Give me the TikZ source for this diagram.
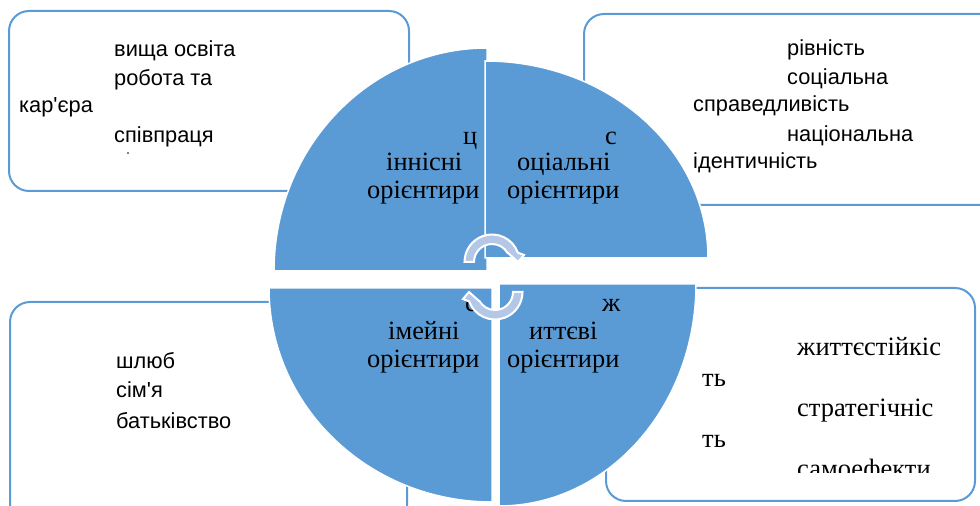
\documentclass[tikz,border=0pt]{standalone}
\usepackage{fontspec}
\setmainfont{Liberation Serif}
\setsansfont[Ligatures=TeXOff]{Liberation Sans}
\definecolor{quadblue}{HTML}{5B9BD5}
\definecolor{arrowblue}{HTML}{B4C7E7}
\tikzset{
    listbox/.style={draw=quadblue, line width=2pt, rounded corners=20pt},
    quadrant/.style={fill=quadblue, draw=white, line width=1.5pt},
    boxtext/.style={anchor=base west, inner sep=0pt, font=\sffamily\fontsize{21.8}{24}\selectfont},
    serifboxtext/.style={anchor=base west, inner sep=0pt, font=\rmfamily\fontsize{26.5}{28}\selectfont},
    quadtext/.style={anchor=base west, inner sep=0pt, font=\rmfamily\fontsize{26.4}{28}\selectfont},
    cyclearrow/.pic={
        \fill[arrowblue, draw=white, line width=2pt]
            (180:18pt) arc[start angle=180, end angle=30, radius=18pt]
            -- (16pt,9pt) -- (26pt,0pt) -- (32pt,7pt) -- (20:27.5pt)
            arc[start angle=20, end angle=180, radius=27.5pt] -- cycle;
    }
}
\begin{document}
\begin{tikzpicture}[x=1pt, y=1pt]
    \useasboundingbox (0,0) rectangle (980,506);
    \clip (0,0) rectangle (980,506);

    % Outer boxes
    \draw[listbox] (9,315) rectangle (409,495);
    \draw[listbox] (584,301) rectangle (1010,492);
    \draw[listbox] (10,-30) rectangle (407,204);
    \draw[listbox] (606,5) rectangle (975,218);

    % Quadrants
    \path[quadrant] (487,235) -- (274,235) arc[start angle=180, end angle=90, x radius=213pt, y radius=223pt] -- cycle;
    \path[quadrant] (485,248) -- (485,445) arc[start angle=90, end angle=0, x radius=223pt, y radius=197pt] -- cycle;
    \path[quadrant] (492,218) -- (269,218) arc[start angle=180, end angle=270, x radius=223pt, y radius=214pt] -- cycle;
    \path[quadrant] (499,222) -- (696,222) arc[start angle=0, end angle=-90, x radius=197pt, y radius=222pt] -- cycle;

    % Top left list
    \node[boxtext] (vyshcha) at (114,449) {вища освіта};
    \node[boxtext] (robota) at (114,420) {робота та};
    \node[boxtext] (kariera) at (19,393) {кар'єра};
    \node[boxtext] (spivpratsia) at (114,363) {співпраця};
    \fill (128,353) circle (0.8pt);

    % Top right list
    \node[boxtext] (rivnist) at (787,450) {рівність};
    \node[boxtext] (sotsialna) at (787,421) {соціальна};
    \node[boxtext] (spravedlyvist) at (693,394) {справедливість};
    \node[boxtext] (natsionalna) at (787,364) {національна};
    \node[boxtext] (identychnist) at (693,337) {ідентичність};

    % Bottom left list
    \node[boxtext] (shliub) at (116,137) {шлюб};
    \node[boxtext] (simia) at (116,108) {сім'я};
    \node[boxtext] (batkivstvo) at (116,77) {батьківство};

    % Bottom right list
    \node[serifboxtext] (zhyttie) at (797,150) {життєстійкіс};
    \node[serifboxtext] (zhyttieend) at (702,119) {ть};
    \node[serifboxtext] (stratehich) at (797,89) {стратегічніс};
    \node[serifboxtext] (stratehichend) at (702,58) {ть};
    \begin{scope}
        \clip (780,33) rectangle (960,60);
        \node[serifboxtext] (samoefekt) at (797,28) {самоефекти};
    \end{scope}

    % Quadrant labels
    \node[quadtext] (tsi) at (463,361) {ц};
    \node[quadtext] (tsii) at (386,335) {іннісні};
    \node[quadtext] (tsiii) at (367,307) {орієнтири};
    \node[quadtext] (so) at (605,361) {с};
    \node[quadtext] (soi) at (517,335) {оціальні};
    \node[quadtext] (soii) at (507,307) {орієнтири};
    \node[quadtext] (si) at (465,194) {с};
    \node[quadtext] (sii) at (388,166) {імейні};
    \node[quadtext] (siii) at (367,138) {орієнтири};
    \node[quadtext] (zh) at (602,194) {ж};
    \node[quadtext] (zhi) at (529,166) {иттєві};
    \node[quadtext] (zhii) at (507,138) {орієнтири};

    % Cycle arrows
    \pic at (492,244) {cyclearrow};
    \pic[rotate=180] at (495,214) {cyclearrow};
\end{tikzpicture}
\end{document}
